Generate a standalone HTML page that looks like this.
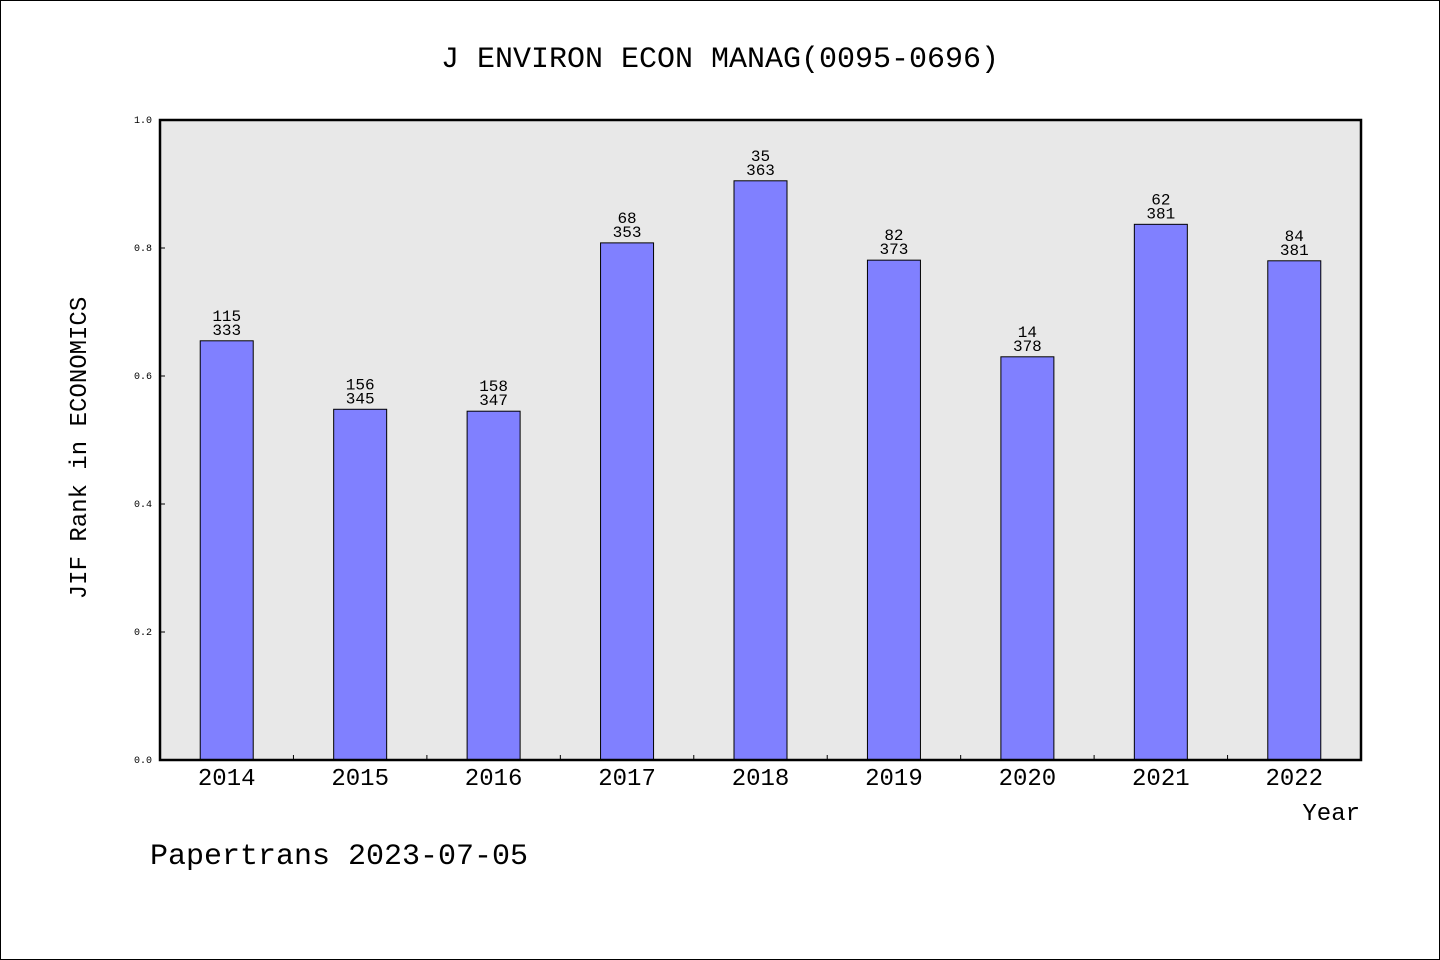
<!DOCTYPE html>
<html><head><meta charset="utf-8"><style>
html,body{margin:0;padding:0;background:#fff}
svg{display:block}
text{font-family:"WenQuanYi Zen Hei","Liberation Mono",monospace;fill:#000}
</style></head><body>
<svg width="1440" height="960">
<rect x="0.5" y="0.5" width="1439" height="959" fill="#fff" stroke="#000"/>
<text x="720" y="67" font-size="30" text-anchor="middle">J ENVIRON ECON MANAG(0095-0696)</text>
<rect x="160" y="120" width="1201" height="640" fill="#e8e8e8"/>
<g id="yticks"></g>
<g id="bars"></g>
<rect x="160" y="120" width="1201" height="640" fill="none" stroke="#000" stroke-width="2.5"/>
<text transform="translate(86,448) rotate(-90)" font-size="24" text-anchor="middle">JIF Rank in ECONOMICS</text>
<text x="1360" y="820" font-size="24" text-anchor="end">Year</text>
<text x="150" y="864" font-size="30">Papertrans 2023-07-05</text>
</svg>
<script>
const years=["2014","2015","2016","2017","2018","2019","2020","2021","2022"];
const barValues=[0.655,0.548,0.545,0.808,0.905,0.781,0.630,0.837,0.780];
const ranks=[115,156,158,68,35,82,14,62,84];
const totals=[333,345,347,353,363,373,378,381,381];
const yTicks=["0.0","0.2","0.4","0.6","0.8","1.0"];
const NS="http://www.w3.org/2000/svg";
const L=160,R=1361,T=120,B=760;
const y=v=>B-v*(B-T);
const step=(R-L)/years.length;
const x=i=>L+step*(i+0.5);
function mk(tag,attrs,parent,txt){const e=document.createElementNS(NS,tag);for(const k in attrs)e.setAttribute(k,attrs[k]);if(txt!==undefined)e.textContent=txt;parent.appendChild(e);return e;}
const yt=document.getElementById('yticks');
yTicks.forEach(t=>{const v=parseFloat(t);
 const l=mk('line',{x1:L,x2:L+5,y1:y(v),y2:y(v),stroke:'#000'},yt);
 
 
 const tx=mk('text',{x:152,y:y(v)+3,'font-size':10,'text-anchor':'end'},yt,t);
 
 
});
const bg=document.getElementById('bars');
years.forEach((yr,i)=>{
 const v=barValues[i];const cx=x(i);const top=y(v);
 const b=mk('rect',{x:cx-26.5,y:top,width:53,height:B-top,fill:'#8080ff',stroke:'#000','stroke-width':1},bg);
 
 
 const r=mk('text',{x:cx,y:top-20,'font-size':16,'text-anchor':'middle'},bg,String(ranks[i]));
 
 
 const t=mk('text',{x:cx,y:top-6,'font-size':16,'text-anchor':'middle'},bg,String(totals[i]));
 
 
 const xl=mk('text',{x:cx,y:785,'font-size':24,'text-anchor':'middle'},bg,yr);
 
 
 if(i>0){const tk=mk('line',{x1:L+step*i,x2:L+step*i,y1:B,y2:B-5,stroke:'#000'},bg);
 
 }
});
</script>
</body></html>
